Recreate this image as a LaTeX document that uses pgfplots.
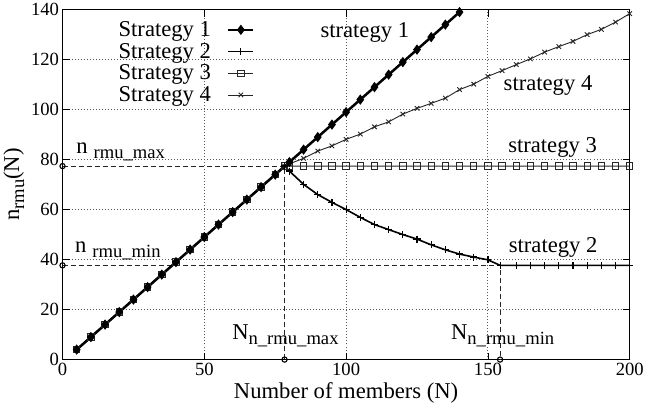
\documentclass[border=0pt]{standalone}
\usepackage{fontspec}
\setmainfont{Liberation Serif}
\usepackage{pgfplots}
\pgfplotsset{compat=1.18}
\newcommand{\sub}[1]{\raisebox{-0.22em}{\fontsize{18.5bp}{20bp}\selectfont #1}}
\newcommand{\bigf}{\fontsize{22.5bp}{24bp}\selectfont}
\begin{document}
\begin{tikzpicture}
\begin{axis}[
  scale only axis, width=564bp, height=348bp,
  xmin=0, xmax=200, ymin=0, ymax=140,
  xtick={0,50,100,150,200}, ytick={0,20,40,60,80,100,120,140},
  grid=major,
  grid style={draw=black!65, line width=1bp, dash pattern=on 1bp off 2bp},
  every tick/.append style={draw=black, line width=0.8bp},
  major tick length=7bp,
  axis line style={line width=0.8bp},
  clip=false,
  tick label style={font=\fontsize{18.5bp}{20bp}\selectfont},
  /pgf/number format/assume math mode=true,
  label style={font=\bigf},
  xlabel={Number of members (N)},
  ylabel={n\sub{rmu}(N)},
  reverse legend,
  legend style={draw=none, fill=none, font=\bigf, at={(0.095,0.972)}, anchor=north west,
    legend cell align=right, row sep=1.2bp, inner sep=0pt},
  legend plot pos=right,
  legend image code/.code={\path (0bp,0bp); \draw[mark repeat=2,mark phase=2,#1] plot coordinates {(14bp,0bp)(26.5bp,0bp)(39bp,0bp)};},
]
% helper dashed lines
\addplot[forget plot, black!85, line width=0.8bp, dash pattern=on 5bp off 3bp] coordinates {(0,77.4)(78.3,77.4)(78.3,0)};
\addplot[forget plot, black!85, line width=0.8bp, dash pattern=on 5bp off 3bp] coordinates {(0,37.7)(154.3,37.7)(154.3,0)};
% Strategy 4
\addplot[black!85, line width=0.9bp, mark=x, mark size=3.2bp] coordinates {
(5,4)(10,9)(15,14)(20,19)(25,24)(30,29)(35,34)(40,39)(45,44)(50,49)(55,54)(60,59)(65,64)(70,69)(75,74)(78.3,77.4)
(80,78.3)(85,80.5)(90,83.4)(95,85.5)(100,88.1)(105,90.2)(110,93.1)(115,95.1)(120,98.2)(125,100.5)(130,102.5)(135,104.6)(140,108)(145,110.2)(150,113.3)(155,115.6)(160,118)(165,120.3)(170,123)(175,125.2)(180,127.3)(185,130)(190,132.1)(195,135)(200,138.4)};
\addlegendentry{Strategy 4}
% Strategy 3
\addplot[black!85, line width=0.9bp, mark=square, mark size=3.2bp] coordinates {
(5,4)(10,9)(15,14)(20,19)(25,24)(30,29)(35,34)(40,39)(45,44)(50,49)(55,54)(60,59)(65,64)(70,69)(75,74)(78.3,77.4)
(80,77.4)(85,77.4)(90,77.4)(95,77.4)(100,77.4)(105,77.4)(110,77.4)(115,77.4)(120,77.4)(125,77.4)(130,77.4)(135,77.4)(140,77.4)(145,77.4)(150,77.4)(155,77.4)(160,77.4)(165,77.4)(170,77.4)(175,77.4)(180,77.4)(185,77.4)(190,77.4)(195,77.4)(200,77.4)};
\addlegendentry{Strategy 3}
% Strategy 2
\addplot[black, line width=1.6bp, mark=+, mark size=3.5bp, mark options={line width=1.2bp}] coordinates {
(5,4)(10,9)(15,14)(20,19)(25,24)(30,29)(35,34)(40,39)(45,44)(50,49)(55,54)(60,59)(65,64)(70,69)(75,74)(78.3,77.4)
(80,75.4)(85,70.1)(90,66)(95,62.9)(100,60)(105,56.9)(110,54)(115,52)(120,50)(125,48.2)(130,45.9)(135,43.9)(140,42.2)(145,41)(150,39.9)(154.3,37.7)
(160,37.7)(165,37.7)(170,37.7)(175,37.7)(180,37.7)(185,37.7)(190,37.7)(195,37.7)(200,37.7)};
\addlegendentry{Strategy 2}
% Strategy 1
\addplot[black, line width=2.5bp, mark=diamond*, mark size=4.5bp, mark options={line width=0.8bp}] coordinates {
(5,4)(10,9)(15,14)(20,19)(25,24)(30,29)(35,34)(40,39)(45,44)(50,49)(55,54)(60,59)(65,64)(70,69)(75,74)(80,79)(85,84)(90,89)(95,94)(100,99)(105,104)(110,109)(115,114)(120,119)(125,124)(130,129)(135,134)(140,139)};
\addlegendentry{Strategy 1}
% circles
\addplot[forget plot, only marks, mark=o, mark size=2.6bp, mark options={line width=1.1bp, fill=white}] coordinates {(0,77.4)(0,37.7)(78.3,0)(154.3,0)};
% labels
\node[font=\bigf] at (axis cs:106.6,131) {strategy 1};
\node[font=\bigf] at (axis cs:171.2,109.6) {strategy 4};
\node[font=\bigf] at (axis cs:172.8,84.8) {strategy 3};
\node[font=\bigf] at (axis cs:173,44.7) {strategy 2};
\node[font=\bigf] at (axis cs:20.5,83) {n\hspace{6bp}\sub{rmu\_max}};
\node[font=\bigf] at (axis cs:19.5,43.5) {n\hspace{6bp}\sub{rmu\_min}};
\node[font=\bigf] at (axis cs:78.6,9.4) {N\sub{n\_rmu\_max}};
\node[font=\bigf] at (axis cs:155.2,9.4) {N\sub{n\_rmu\_min}};
\end{axis}
\end{tikzpicture}
\end{document}
